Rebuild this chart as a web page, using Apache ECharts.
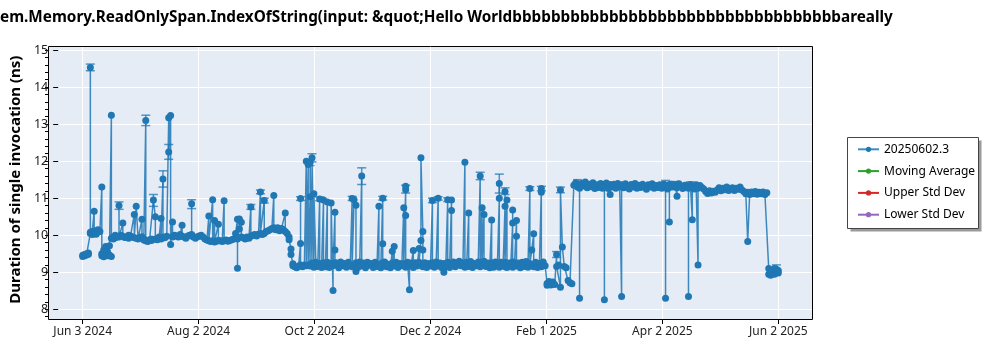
<!DOCTYPE html>
<html><head><meta charset="utf-8">
<script src="https://cdn.jsdelivr.net/npm/echarts@6/dist/echarts.min.js"></script>
<style>html,body{margin:0;padding:0;background:#fff}#c{width:1000px;height:350px}</style>
</head><body><div id="c"></div><script>
const titleText = 'em.Memory.ReadOnlySpan.IndexOfString(input: &quot;Hello Worldbbbbbbbbbbbbbbbbbbbbbbbbbbbbbbbbbbareally';
const yTitle = 'Duration of single invocation (ns)';
const seriesNames = ['20250602.3', 'Moving Average', 'Upper Std Dev', 'Lower Std Dev'];
const seriesColors = ['#1f77b4', '#2ca02c', '#d62728', '#9467bd'];
const tickDates = ['2024-06-03', '2025-06-02'];
const tickLabels = ['Jun 3 2024', 'Aug 2 2024', 'Oct 2 2024', 'Dec 2 2024', 'Feb 1 2025', 'Apr 2 2025', 'Jun 2 2025'];

const dates = [
'2024-06-03','2024-06-03','2024-06-04','2024-06-04','2024-06-05','2024-06-05','2024-06-06','2024-06-06','2024-06-07','2024-06-07','2024-06-07',
'2024-06-08','2024-06-08','2024-06-09','2024-06-09','2024-06-09','2024-06-10','2024-06-10','2024-06-11','2024-06-11','2024-06-12','2024-06-13',
'2024-06-13','2024-06-13','2024-06-14','2024-06-14','2024-06-15','2024-06-15','2024-06-16','2024-06-16','2024-06-17','2024-06-17','2024-06-18','2024-06-18','2024-06-18',
'2024-06-19','2024-06-19','2024-06-20','2024-06-20','2024-06-21','2024-06-22','2024-06-22','2024-06-22','2024-06-23','2024-06-24','2024-06-24','2024-06-25',
'2024-06-26','2024-06-27','2024-06-27','2024-06-28','2024-06-29','2024-06-30','2024-06-30','2024-07-01','2024-07-01','2024-07-02',
'2024-07-03','2024-07-04','2024-07-04','2024-07-05','2024-07-05','2024-07-06','2024-07-06','2024-07-07','2024-07-08','2024-07-09','2024-07-09',
'2024-07-10','2024-07-11','2024-07-11','2024-07-12','2024-07-13','2024-07-14','2024-07-14','2024-07-15','2024-07-15','2024-07-16','2024-07-17',
'2024-07-18','2024-07-18','2024-07-19','2024-07-19','2024-07-20','2024-07-20','2024-07-21','2024-07-22','2024-07-23','2024-07-24',
'2024-07-25','2024-07-25','2024-07-26','2024-07-27','2024-07-28','2024-07-29','2024-07-30','2024-07-30','2024-07-30','2024-07-31',
'2024-08-01','2024-08-02','2024-08-03','2024-08-04','2024-08-05','2024-08-06','2024-08-07','2024-08-08','2024-08-08','2024-08-09',
'2024-08-10','2024-08-10','2024-08-11','2024-08-11','2024-08-12','2024-08-13','2024-08-13','2024-08-14','2024-08-15','2024-08-16','2024-08-16',
'2024-08-17','2024-08-18','2024-08-19','2024-08-20','2024-08-21','2024-08-22','2024-08-22','2024-08-23','2024-08-23','2024-08-23',
'2024-08-24','2024-08-24','2024-08-25','2024-08-25','2024-08-26','2024-08-27','2024-08-28','2024-08-29','2024-08-30','2024-08-30','2024-08-31',
'2024-09-01','2024-09-02','2024-09-03','2024-09-04','2024-09-04','2024-09-05','2024-09-06','2024-09-06','2024-09-07','2024-09-08',
'2024-09-09','2024-09-10','2024-09-11','2024-09-11','2024-09-12','2024-09-13','2024-09-14','2024-09-15','2024-09-16',
'2024-09-17','2024-09-17','2024-09-18','2024-09-19','2024-09-19','2024-09-20','2024-09-20','2024-09-21','2024-09-21','2024-09-22','2024-09-23','2024-09-24',
'2024-09-25','2024-09-25','2024-09-25','2024-09-25','2024-09-26','2024-09-27','2024-09-28','2024-09-28','2024-09-29','2024-09-29','2024-09-30','2024-09-30','2024-09-30',
'2024-10-01','2024-10-01','2024-10-02','2024-10-02','2024-10-03','2024-10-04','2024-10-05','2024-10-05','2024-10-06','2024-10-07','2024-10-07',
'2024-10-08','2024-10-09','2024-10-09','2024-10-10','2024-10-11','2024-10-11','2024-10-12','2024-10-12','2024-10-13','2024-10-13','2024-10-13',
'2024-10-14','2024-10-15','2024-10-16','2024-10-17','2024-10-18','2024-10-19','2024-10-20','2024-10-21',
'2024-10-22','2024-10-22','2024-10-23','2024-10-24','2024-10-24','2024-10-24','2024-10-25','2024-10-26','2024-10-27','2024-10-27','2024-10-28','2024-10-29','2024-10-30','2024-10-31',
'2024-11-01','2024-11-02','2024-11-03','2024-11-04','2024-11-05','2024-11-05','2024-11-06','2024-11-07','2024-11-07','2024-11-07',
'2024-11-08','2024-11-09','2024-11-10','2024-11-11','2024-11-12','2024-11-12','2024-11-13','2024-11-13','2024-11-14','2024-11-15','2024-11-16','2024-11-17',
'2024-11-18','2024-11-18','2024-11-19','2024-11-19','2024-11-19','2024-11-19','2024-11-20','2024-11-21','2024-11-21','2024-11-22','2024-11-23','2024-11-23','2024-11-24','2024-11-25',
'2024-11-26','2024-11-26','2024-11-27','2024-11-27','2024-11-28','2024-11-28','2024-11-28','2024-11-29','2024-11-30','2024-12-01','2024-12-02',
'2024-12-03','2024-12-03','2024-12-04','2024-12-05','2024-12-06','2024-12-06','2024-12-07','2024-12-08','2024-12-09','2024-12-09','2024-12-10',
'2024-12-11','2024-12-11','2024-12-12','2024-12-13','2024-12-13','2024-12-13','2024-12-14','2024-12-15','2024-12-16','2024-12-17','2024-12-18','2024-12-19',
'2024-12-20','2024-12-20','2024-12-21','2024-12-22','2024-12-22','2024-12-23','2024-12-24','2024-12-25','2024-12-26','2024-12-27',
'2024-12-28','2024-12-28','2024-12-29','2024-12-29','2024-12-30','2024-12-30','2024-12-31','2025-01-01','2025-01-02',
'2025-01-03','2025-01-03','2025-01-04','2025-01-05','2025-01-06','2025-01-07','2025-01-07','2025-01-07','2025-01-07','2025-01-08','2025-01-09',
'2025-01-10','2025-01-10','2025-01-10','2025-01-10','2025-01-11','2025-01-11','2025-01-12','2025-01-13','2025-01-14','2025-01-14','2025-01-14','2025-01-14','2025-01-15','2025-01-16','2025-01-16','2025-01-16',
'2025-01-17','2025-01-18','2025-01-19','2025-01-20','2025-01-21','2025-01-22','2025-01-23','2025-01-23','2025-01-24','2025-01-25','2025-01-25',
'2025-01-26','2025-01-27','2025-01-28','2025-01-29','2025-01-29','2025-01-29','2025-01-30','2025-01-31',
'2025-02-01','2025-02-01','2025-02-02','2025-02-02','2025-02-03','2025-02-03','2025-02-04','2025-02-04','2025-02-05',
'2025-02-06','2025-02-06','2025-02-07','2025-02-08','2025-02-08','2025-02-09','2025-02-10','2025-02-11','2025-02-12','2025-02-13','2025-02-14',
'2025-02-15','2025-02-16','2025-02-17','2025-02-18','2025-02-18','2025-02-18','2025-02-19','2025-02-20','2025-02-21',
'2025-02-22','2025-02-23','2025-02-24','2025-02-25','2025-02-26','2025-02-27','2025-02-28',
'2025-03-01','2025-03-02','2025-03-03','2025-03-03','2025-03-03','2025-03-04','2025-03-05','2025-03-06','2025-03-06','2025-03-07',
'2025-03-08','2025-03-09','2025-03-10','2025-03-11','2025-03-12','2025-03-12','2025-03-13','2025-03-14','2025-03-15',
'2025-03-16','2025-03-17','2025-03-18','2025-03-19','2025-03-20','2025-03-21','2025-03-22','2025-03-23',
'2025-03-24','2025-03-25','2025-03-26','2025-03-27','2025-03-28','2025-03-29','2025-03-30','2025-03-31',
'2025-04-01','2025-04-02','2025-04-03','2025-04-04','2025-04-04','2025-04-04','2025-04-05','2025-04-06','2025-04-06','2025-04-06','2025-04-07',
'2025-04-08','2025-04-09','2025-04-10','2025-04-10','2025-04-11','2025-04-12','2025-04-13','2025-04-14','2025-04-15',
'2025-04-16','2025-04-16','2025-04-16','2025-04-17','2025-04-18','2025-04-18','2025-04-19','2025-04-20','2025-04-21','2025-04-21','2025-04-21','2025-04-22',
'2025-04-23','2025-04-24','2025-04-25','2025-04-26','2025-04-27','2025-04-28','2025-04-29','2025-04-30',
'2025-05-01','2025-05-02','2025-05-03','2025-05-04','2025-05-05','2025-05-06','2025-05-07','2025-05-08',
'2025-05-09','2025-05-10','2025-05-11','2025-05-12','2025-05-13','2025-05-14','2025-05-15','2025-05-16',
'2025-05-17','2025-05-17','2025-05-18','2025-05-19','2025-05-20','2025-05-21','2025-05-22','2025-05-23','2025-05-24','2025-05-25','2025-05-26','2025-05-27',
'2025-05-28','2025-05-28','2025-05-29','2025-05-29','2025-05-30','2025-05-30','2025-05-31','2025-05-31','2025-06-01','2025-06-01','2025-06-02','2025-06-02'
];

const values = [
9.43,9.46,9.45,9.48,9.47,9.50,9.49,9.52,10.05,14.53,10.08,
10.02,10.10,10.05,10.65,10.06,10.03,10.12,10.08,10.15,10.10,11.30,
9.50,9.45,9.60,9.42,9.70,9.48,9.55,9.45,9.72,9.47,9.43,13.24,9.92,
9.90,9.95,9.93,10.00,9.95,9.97,10.80,9.95,10.00,10.33,9.97,9.94,
9.95,10.00,9.92,9.98,9.95,10.56,9.93,9.92,10.78,9.90,
9.94,10.43,9.96,9.90,9.87,13.10,9.85,9.83,9.88,9.90,9.86,
10.95,10.50,9.90,9.88,9.95,10.45,9.90,11.52,9.95,9.93,9.97,
13.17,12.25,13.23,9.75,10.36,9.95,10.00,9.98,9.95,10.02,
10.27,9.97,9.95,9.92,9.98,10.00,10.02,10.85,9.98,9.95,
9.92,9.96,9.98,10.00,9.95,9.90,9.87,10.52,9.85,9.83,
10.96,9.85,10.40,9.82,9.84,10.30,9.86,9.85,9.83,10.93,9.85,
9.87,9.84,9.86,9.88,9.90,9.92,10.05,10.43,9.11,9.90,
10.17,10.44,10.35,9.95,9.93,9.90,9.95,9.92,10.76,9.97,10.00,
10.02,9.98,10.03,11.17,10.05,10.02,10.94,10.05,10.10,10.12,
10.15,10.18,11.07,10.20,10.15,10.20,10.12,10.18,10.15,
10.60,10.10,10.05,9.95,9.88,9.63,9.48,9.23,9.18,9.15,9.12,9.17,
9.78,9.20,10.99,9.18,9.15,9.20,12.00,9.18,11.91,9.20,11.04,9.17,11.97,
9.25,12.09,9.14,11.12,9.27,9.16,10.98,9.24,9.13,10.95,9.26,
9.15,10.90,9.27,9.13,9.24,10.87,8.51,9.18,10.62,9.60,9.26,
9.25,9.12,9.28,9.18,9.24,9.14,9.27,9.20,
10.99,9.15,10.96,10.81,9.02,9.26,9.13,9.28,11.60,9.17,9.25,9.12,9.27,9.19,
9.24,9.13,9.27,9.16,10.78,9.22,9.12,11.00,9.77,9.26,
9.28,9.15,9.22,9.12,9.57,9.25,9.70,9.17,9.27,9.13,9.24,9.18,
10.74,9.24,11.23,11.32,10.53,9.14,9.27,8.53,9.18,9.25,9.59,9.13,9.26,9.17,
9.64,9.27,9.86,12.09,10.10,9.60,9.15,9.26,9.13,9.24,9.17,
10.94,9.26,9.14,9.28,11.00,9.17,9.25,9.12,9.00,9.24,9.15,
10.96,9.27,9.13,10.95,10.67,9.22,9.28,9.15,9.25,9.30,9.18,9.26,
11.97,9.14,9.27,10.60,9.16,9.29,9.13,9.24,9.18,9.28,
11.60,9.15,10.74,9.27,10.56,9.30,9.16,9.25,9.12,
10.41,9.26,9.14,9.28,9.17,11.00,9.25,11.40,9.14,9.27,9.18,
10.78,9.15,11.18,9.27,10.95,9.13,9.25,9.18,10.33,9.28,10.68,9.14,9.26,10.40,9.97,9.17,
9.25,9.12,9.27,9.16,9.29,9.14,11.26,9.24,9.60,10.04,9.15,
9.27,9.13,9.24,11.26,11.16,9.15,9.28,9.18,
8.70,8.65,8.75,8.68,8.72,8.66,8.74,8.70,8.67,
9.48,9.16,9.20,8.60,11.22,9.68,9.16,9.12,8.78,8.72,8.69,
11.35,11.42,11.30,11.38,8.30,11.27,11.40,11.33,11.44,
11.28,11.38,11.31,11.42,11.26,11.36,11.29,
11.40,11.27,11.36,8.26,11.30,11.41,11.26,11.10,11.37,11.30,
11.38,11.27,11.40,11.31,8.35,11.36,11.28,11.39,11.30,
11.25,11.37,11.30,11.40,11.27,11.35,11.29,11.38,
11.30,11.24,11.36,11.30,11.39,11.27,11.34,11.29,
11.36,11.27,11.38,11.30,8.30,11.33,11.25,11.37,10.36,11.29,11.38,
11.30,11.36,11.05,11.28,11.39,11.31,11.26,11.35,11.30,
11.34,8.35,11.27,11.37,10.42,11.30,11.25,11.36,11.31,9.20,11.27,11.34,
11.29,11.25,11.18,11.13,11.20,11.14,11.19,11.16,
11.22,11.28,11.20,11.27,11.23,11.30,11.21,11.26,
11.28,11.21,11.27,11.24,11.30,11.22,11.18,11.12,
11.16,9.83,11.10,11.17,11.12,11.18,11.11,11.16,11.12,11.17,11.10,11.15,
9.10,8.95,9.00,8.92,9.05,8.98,9.10,8.95,9.00,9.08,8.98,9.05
];

const errDates = ['2024-06-07','2024-06-22','2024-07-06','2024-07-10','2024-07-15','2024-07-18','2024-07-30','2024-08-30','2024-09-04','2024-09-06','2024-09-30','2024-10-01','2024-10-27','2024-11-19','2024-12-03','2024-12-28','2025-01-07','2025-01-10','2025-01-29','2025-02-06','2025-02-08','2025-02-17','2025-04-04','2025-04-09','2025-04-17','2025-06-01','2024-09-25','2024-10-05','2024-10-22','2024-11-07','2024-12-06','2024-12-11','2025-01-23'];
const errLow   = [14.44,10.70,12.96,10.78,11.30,12.05,10.72,10.70,11.12,10.87,11.88,11.98,11.37,11.14,10.88,11.50,11.14,11.10,11.20,9.40,11.15,11.30,11.30,11.30,11.30,9.00,10.94,10.93,10.94,10.95,10.95,10.91,11.21];
const errHigh  = [14.62,10.90,13.24,11.10,11.74,12.45,10.96,10.83,11.22,11.00,12.03,12.20,11.82,11.35,11.00,11.70,11.65,11.28,11.32,9.56,11.30,11.50,11.48,11.45,11.44,9.20,11.04,11.03,11.05,11.05,11.04,11.01,11.31];

const DAY = 86400000;
function toTime(s){const p=s.split('-');return Date.UTC(+p[0],+p[1]-1,+p[2]);}
if (dates.length !== values.length) { document.body.insertAdjacentHTML('afterbegin','<h1>LENGTH MISMATCH '+dates.length+' vs '+values.length+'</h1>'); }
const mainData = dates.map((d,i)=>[toTime(d), values[i]]);
const errData = errDates.map((d,i)=>[toTime(d), errLow[i], errHigh[i]]);
const t0 = toTime(tickDates[0]);
const t1 = toTime(tickDates[1]);
const step = (t1 - t0) / (tickLabels.length - 1);
const FONT = 'Noto Sans';

const chart = echarts.init(document.getElementById('c'), null, {renderer:'canvas'});
const lineSeries = seriesNames.map((n,i)=>({
  name:n, type:'line', xAxisIndex:0, yAxisIndex:0,
  data: i===0 ? mainData : [],
  symbol:'circle', symbolSize:7, showSymbol:true, showAllSymbol:true,
  itemStyle:{color:seriesColors[i]},
  lineStyle:{color:seriesColors[i], width:1.5, opacity: i===0 ? 0.85 : 1},
  z: 4, clip:true, animation:false
}));
const option = {
  animation:false,
  title:{text:titleText, left:0, top:10, padding:0,
    textStyle:{fontFamily:FONT, fontSize:15.3, fontWeight:'bold', color:'#000'}},
  legend:{data:seriesNames, orient:'vertical', left:857, top:143.3, padding:0, z:10,
    itemWidth:21, itemHeight:6.5, itemGap:9.8,
    textStyle:{fontFamily:FONT, fontSize:12, color:'#000'}},
  grid:[
    {left:48, right:187, top:47, bottom:31, show:true, backgroundColor:'#e5ecf6', borderWidth:0},
    {left:82.7, right:221.7, top:47, bottom:31},
    {left:48, right:187, top:50, bottom:40.7},
    {left:48, right:187, top:50, bottom:33.3}
  ],
  xAxis:[
    {gridIndex:0, type:'time', min:t0-18.16*DAY, max:t0+382.16*DAY, show:false},
    {gridIndex:1, type:'value', min:t0, max:t1, interval:step,
      axisLine:{show:false},
      axisTick:{show:true, length:5, lineStyle:{color:'#000', width:1}},
      splitLine:{show:true, lineStyle:{color:'#fff', width:1}},
      axisLabel:{fontFamily:FONT, fontSize:12, color:'#222', margin:7,
        formatter:(v)=>tickLabels[Math.round((v-t0)/step)]}},
    {gridIndex:2, type:'value', show:false},
    {gridIndex:3, type:'value', show:false}
  ],
  yAxis:[
    {gridIndex:0, type:'value', min:7.74, max:15.081, show:false},
    {gridIndex:1, type:'value', show:false},
    {gridIndex:2, type:'value', min:8, max:15, interval:1,
      axisLine:{show:false},
      axisTick:{show:true, length:5, lineStyle:{color:'#000', width:1}},
      splitLine:{show:true, lineStyle:{color:'#fff', width:1}},
      axisLabel:{fontFamily:FONT, fontSize:12.5, color:'#222', margin:10},
      name:yTitle, nameLocation:'middle', nameGap:27,
      nameTextStyle:{fontFamily:FONT, fontSize:15, fontWeight:'bold', color:'#000'}},
    {gridIndex:3, type:'value', min:7.8, max:15, interval:0.2,
      axisLine:{show:false},
      axisTick:{show:true, length:3, lineStyle:{color:'#000', width:1}},
      axisLabel:{show:false}, splitLine:{show:false}}
  ],
  graphic:[
    {type:'rect', z:100, silent:true, shape:{x:48.5, y:46.5, width:764, height:273},
      style:{fill:null, stroke:'#000', lineWidth:1}},
    {type:'rect', z:1, silent:true, shape:{x:850.5, y:140.5, width:131, height:91},
      style:{fill:'#9a9a9a', stroke:null}},
    {type:'rect', z:2, silent:true, shape:{x:847.5, y:137.5, width:131, height:91},
      style:{fill:'#fff', stroke:'#444', lineWidth:1}}
  ],
  series: lineSeries.concat([{
    type:'custom', name:'errors', xAxisIndex:0, yAxisIndex:0, data:errData, z:3,
    encode:{x:0, y:[1,2]},
    renderItem:function(params, api){
      const lo = api.coord([api.value(0), api.value(1)]);
      const hi = api.coord([api.value(0), api.value(2)]);
      const w = 4.5;
      const st = {stroke:'rgba(31,119,180,0.75)', lineWidth:1.5, fill:null};
      return {type:'group', children:[
        {type:'line', shape:{x1:lo[0], y1:lo[1], x2:hi[0], y2:hi[1]}, style:st},
        {type:'line', shape:{x1:lo[0]-w, y1:lo[1], x2:lo[0]+w, y2:lo[1]}, style:st},
        {type:'line', shape:{x1:hi[0]-w, y1:hi[1], x2:hi[0]+w, y2:hi[1]}, style:st}
      ]};
    }
  }])
};
chart.setOption(option);
</script></body></html>
